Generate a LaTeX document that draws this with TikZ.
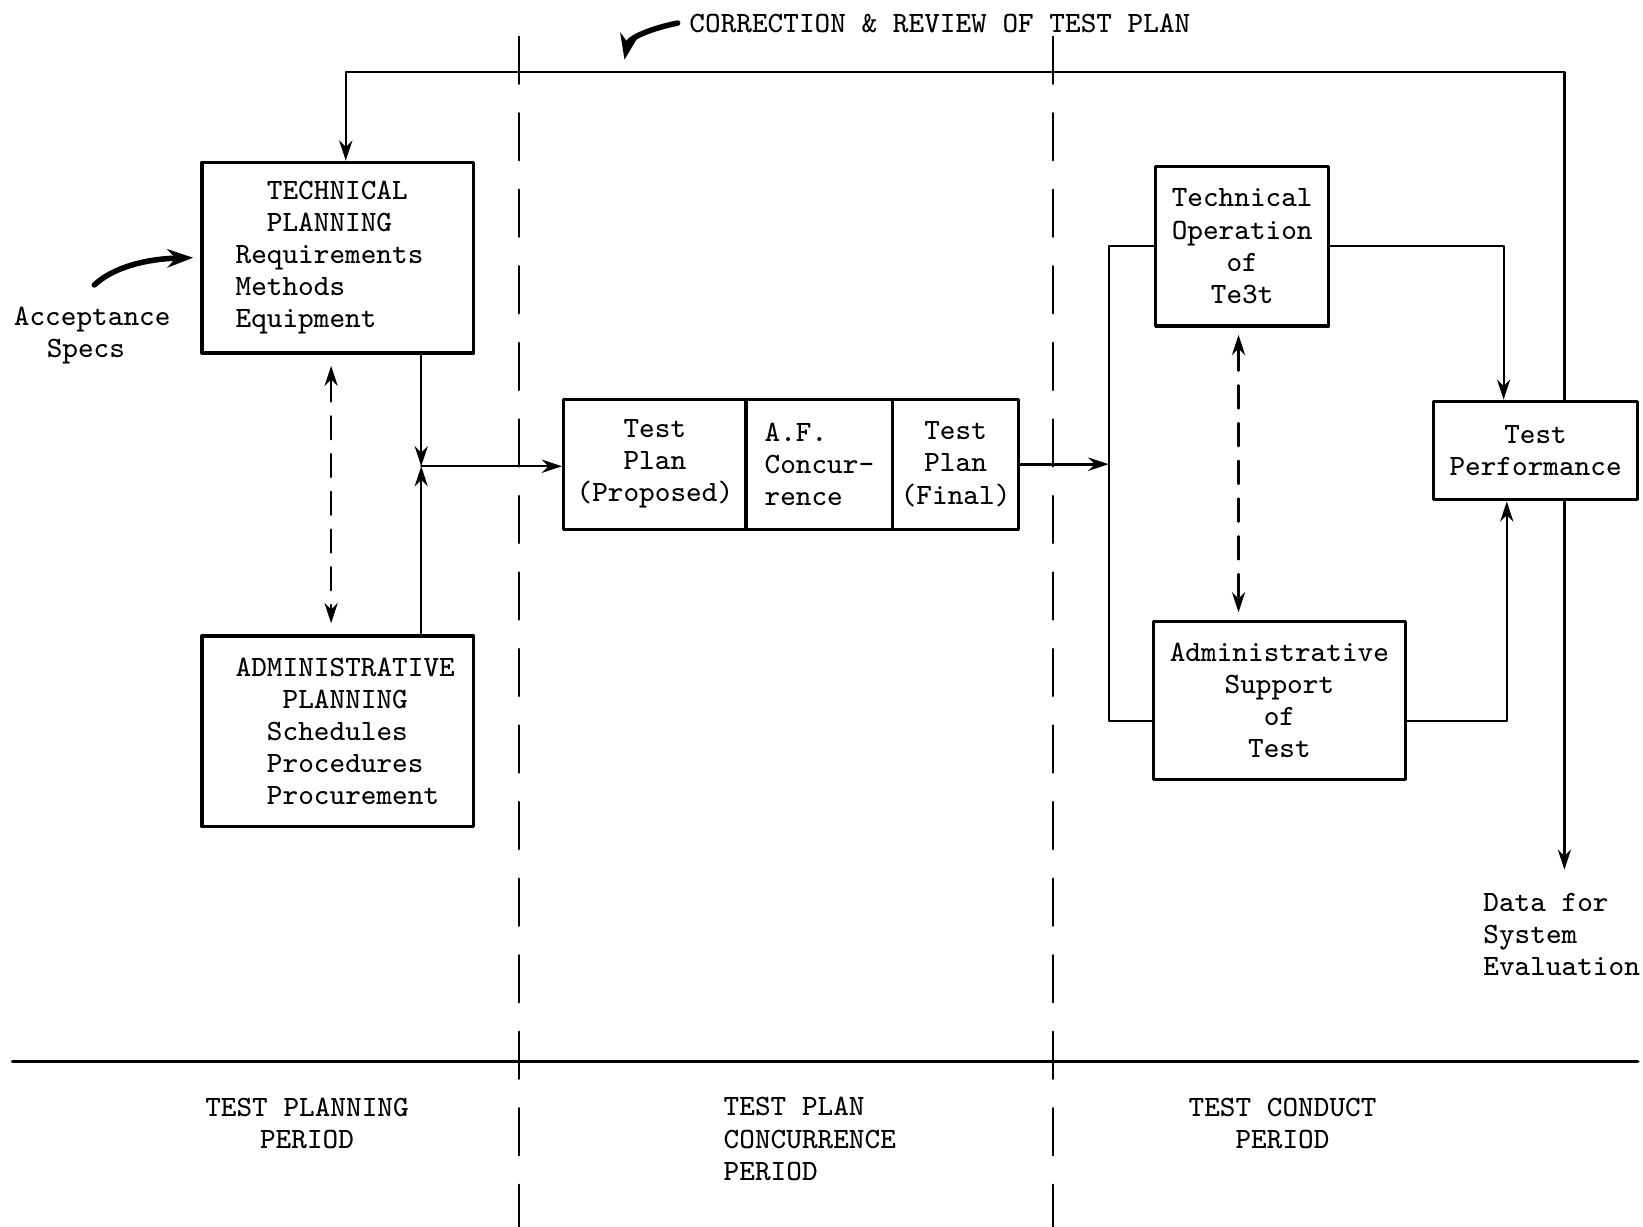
\documentclass[tikz,border=0pt]{standalone}
\usepackage{tikz}
\usetikzlibrary{arrows.meta}

\begin{document}
\begin{tikzpicture}[
    x=0.01cm,
    y=-0.01cm,
    >={Stealth[length=5.5pt,width=3.6pt]},
    line cap=round,
    line join=round,
    every node/.style={font=\ttfamily\fontsize{8}{8.7}\selectfont},
    box/.style={draw,line width=0.9pt,inner sep=0pt,align=center},
    lbl/.style={inner sep=0pt,align=center},
    conn/.style={line width=0.6pt},
    bigarr/.style={line width=1.5pt,-{Stealth[length=7pt,width=5pt]}},
    period/.style={line width=0.6pt,dash pattern=on 0.45cm off 0.28cm},
    link/.style={dash pattern=on 0.22cm off 0.14cm}
]

% Parametri
\def\yTop{69}
\def\xRet{1493}
\def\xPa{495}
\def\xPb{1005}
\def\yBase{1013}
\def\ind{\hspace*{0.14cm}}

\useasboundingbox (0,0) rectangle (1568,1171);

% Linee dei periodi
\draw[period] (\xPa,35) -- (\xPa,1171);
\draw[period] (\xPb,35) -- (\xPb,1171);
\draw[line width=1pt] (12,\yBase) -- (1563,\yBase);

% Blocchi
\node[box,align=left,minimum width=2.59cm,minimum height=1.82cm] (techplan) at (322.5,246)
    {\phantom{xx}TECHNICAL\\\phantom{xx}PLANNING\\Requirements\rule{0.16cm}{0pt}\\Methods\\Equipment};
\node[box,align=left,minimum width=2.59cm,minimum height=1.82cm] (adminplan) at (322.5,698)
    {\ind ADMINISTRATIVE\\\ind\phantom{xxx}PLANNING\\\ind\phantom{xx}Schedules\\\ind\phantom{xx}Procedures\\\ind\phantom{xx}Procurement};

\node[box,minimum width=1.74cm,minimum height=1.24cm] (proposed) at (625,443) {Test\\Plan\\(Proposed)};
\node[box,align=left,minimum width=1.40cm,minimum height=1.24cm] (concur) at (782,443) {A.F.\\Concur-\\rence};
\node[box,minimum width=1.20cm,minimum height=1.24cm] (final) at (912,443) {Test\\Plan\\(Final)};

\node[box,minimum width=1.65cm,minimum height=1.52cm] (techop) at (1185.5,235) {Technical\\Operation\\of\\Te3t};
\node[box,minimum width=2.40cm,minimum height=1.51cm] (adminsup) at (1221,668.5) {Administrative\\Support\\of\\Test};
\node[box,minimum width=1.95cm,minimum height=0.94cm] (testperf) at (1465.5,430) {Test\\Performance};

% Testi
\node[lbl] (corr) at (897,22) {CORRECTION \& REVIEW OF TEST PLAN};
\node[lbl] (accept) at (88,320) {Acceptance\\Specs\hspace*{0.12cm}};
\node[lbl,anchor=west,align=left] (data) at (1415,892) {Data for\\System\\Evaluation};
\node[lbl] (plan) at (293,1072) {TEST PLANNING\\PERIOD};
\node[lbl,anchor=west,align=left] (conc) at (690,1087) {TEST PLAN\\CONCURRENCE\\PERIOD};
\node[lbl] (cond) at (1224,1072) {TEST CONDUCT\\PERIOD};

% Punti di appoggio
\coordinate (jn) at (402,445);
\coordinate (fbR) at (\xRet,\yTop);
\coordinate (fbL) at (330,\yTop);
\coordinate (dataend) at (\xRet,830);
\coordinate (splitT) at (1058,236);
\coordinate (splitB) at (1058,688);
\coordinate (cornT) at (1435,240);
\coordinate (cornB) at (1438,688);
\coordinate (dl) at (316,0);
\coordinate (dr) at (1182,0);
\coordinate (acc0) at (90,272);
\coordinate (corrend) at (596,57);

% Pianificazione
\draw[conn,->] (techplan.south -| jn) -- (jn);
\draw[conn,->] (adminplan.north -| jn) -- (jn);
\draw[conn,->] (jn) -- (jn -| proposed.west);
\draw[conn,link,<->,shorten <=3pt,shorten >=3pt] (techplan.south -| dl) -- (adminplan.north -| dl);

% Esecuzione
\draw[conn,->,line width=0.9pt] (final.east) -- (final.east -| splitT);
\draw[conn] (techop.west) -- (techop.west -| splitT) -- (splitB) -- (splitB -| adminsup.west);
\draw[conn,link,<->,shorten <=2pt,shorten >=2pt] (techop.south -| dr) -- (adminsup.north -| dr);
\draw[conn,->] (techop.east) -- (techop.east -| cornT) -- (testperf.north -| cornT);
\draw[conn,->] (adminsup.east |- cornB) -- (cornB) -- (testperf.south -| cornB);

% Ritorno e uscita
\draw[conn,->] (testperf.north -| fbR) -- (fbR) -- (fbL) -- (techplan.north -| fbL);
\draw[conn,->] (testperf.south -| fbR) -- (dataend);

% Frecce curve
\draw[bigarr] ([xshift=-3pt]corr.west) .. controls (622,27) and (600,36) .. (corrend);
\draw[bigarr] (acc0) .. controls (108,255) and (140,247) .. ([xshift=-2pt]techplan.west);

\end{tikzpicture}
\end{document}
